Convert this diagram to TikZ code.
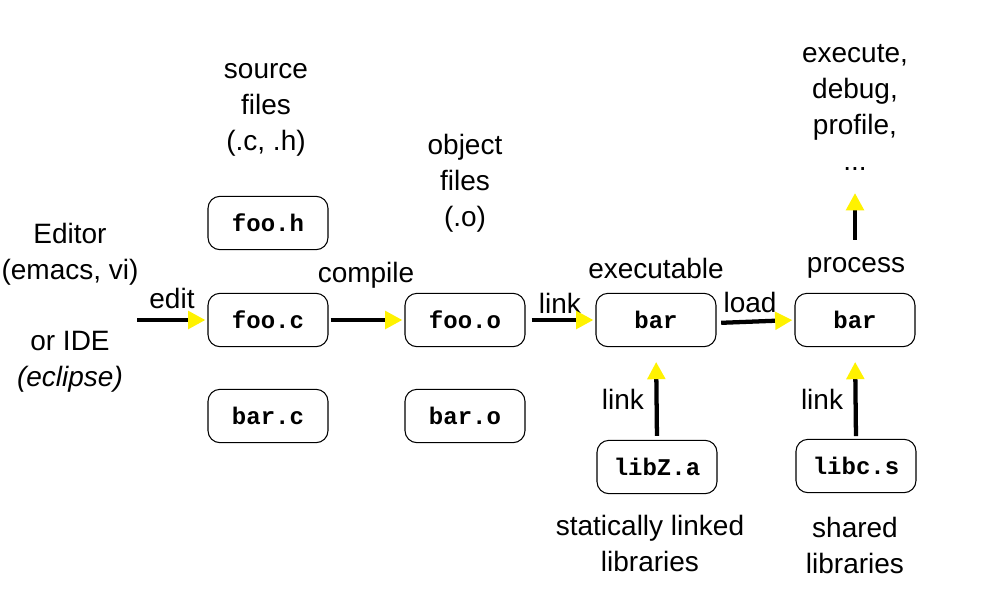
\documentclass[tikz,border=0pt]{standalone}
\usepackage{fontspec}
\setmainfont{Liberation Sans}
\newfontfamily\codefont{Liberation Mono}
\usetikzlibrary{arrows.meta,calc}
\tikzset{
  file/.style={draw=black, line width=0.8pt, rounded corners=9pt, minimum width=90pt, minimum height=40pt, inner sep=0pt, font=\codefont\bfseries\fontsize{18}{20}\selectfont},
  lbl/.style={align=center, inner sep=0pt, font=\fontsize{21}{27}\selectfont},
  arr/.style={line width=3.2pt, black, -{Triangle[length=13pt,width=13pt,fill=yellow,color=yellow]}}
}
\begin{document}
\begin{tikzpicture}[x=0.75pt,y=-0.75pt]
\useasboundingbox (0,0) rectangle (982,604);
% boxes
\node[file] (fooh) at (268,223) {foo.h};
\node[file] (fooc) at (268,320) {foo.c};
\node[file] (barc) at (268,416) {bar.c};
\node[file] (fooo) at (465,320) {foo.o};
\node[file] (baro) at (465,416) {bar.o};
\node[file] (barx) at (656,320) {bar};
\node[file] (libz) at (657,467) {libZ.a};
\node[file] (barp) at (855,320) {bar};
\node[file] (libc) at (856,466) {libc.s};
% labels
\node[lbl] (src) at (266,110) {source\\files\\(.c, .h)};
\node[lbl] (obj) at (465,183) {object\\files\\(.o)};
\node[lbl] (ed) at (70,254) {Editor\\(emacs, vi)};
\node[lbl] (ide) at (70,362) {or IDE\\\textit{(eclipse)}};
\node[lbl] (editl) at (172,298) {edit};
\node[lbl] (compl) at (366,275) {compile};
\node[lbl] (linkl) at (560,303) {link};
\node[lbl] (loadl) at (750,302) {load};
\node[lbl] (exel) at (656,268) {executable};
\node[lbl] (procl) at (856,268) {process};
\node[lbl] (exe) at (855,107) {execute,\\debug,\\profile,\\...};
\node[lbl] (linkz) at (623,399) {link};
\node[lbl] (linkc) at (822,399) {link};
\node[lbl] (stat) at (650,543) {statically linked\\libraries};
\node[lbl] (shar) at (855,545) {shared\\libraries};
% connectors
\coordinate (edstart) at (137,320);
\draw[arr, shorten >=1.5pt] (edstart) -- (fooc.west);
\draw[arr, shorten <=1.5pt, shorten >=1.5pt] (fooc.east) -- (fooo.west);
\draw[arr, shorten <=4.5pt, shorten >=1.5pt] (fooo.east) -- (barx.west);
\draw[arr, shorten <=3.5pt, shorten >=1.5pt] ([yshift=-2.25pt]barx.east) -- (barp.west);
\draw[arr, shorten <=3pt, shorten >=11pt] (libz.north) -- (barx.south);
\draw[arr, shorten <=2pt, shorten >=11pt] (libc.north) -- (barp.south);
\draw[arr, shorten <=13pt, shorten >=17pt] (procl.north -| barp.north) -- (exe.south -| barp.north);
\end{tikzpicture}
\end{document}
